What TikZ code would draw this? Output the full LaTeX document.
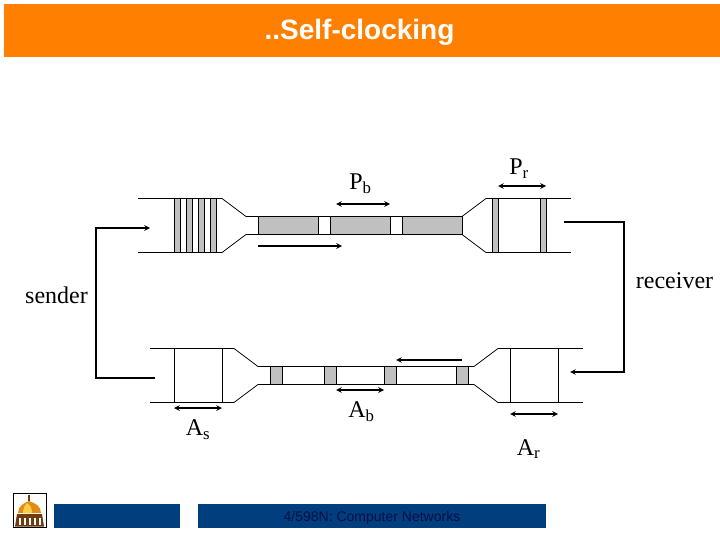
\documentclass[tikz,border=0pt]{standalone}
\usepackage{fontspec}
\setmainfont{Liberation Serif}
\newfontfamily\headfont{Liberation Sans}
\usetikzlibrary{
  arrows,
  positioning}
\definecolor{bannerorange}{RGB}{255,128,0}
\definecolor{footblue}{RGB}{0,62,126}
\definecolor{footink}{RGB}{5,15,70}
\definecolor{packetgray}{RGB}{192,192,192}
\definecolor{domegold}{RGB}{225,140,20}
\definecolor{domelight}{RGB}{250,205,70}
\definecolor{domedark}{RGB}{110,60,15}

\begin{document}
\begin{tikzpicture}[
  x=1pt,y=-1pt,
  >=stealth,
  pipe/.style={line width=0.75pt},
  packet/.style={draw,line width=0.75pt,fill=packetgray},
  flow/.style={line width=1.5pt,->},
  span/.style={line width=1.5pt,<->},
  lab/.style={font=\fontsize{24}{26}\selectfont,inner sep=0pt}
]%
  \useasboundingbox (0,0) rectangle (720,540);
  \fill[white] (0,0) rectangle (720,540);

  % title and footer
  \node (banner) [fill=bannerorange,minimum width=716,minimum height=53,inner sep=0pt] at (362,30.5) {};
  \node (title) [text=white] at (359.5,32) {\headfont\bfseries\fontsize{28}{30}\selectfont ..Self-clocking};
  \node (footA) [fill=footblue,minimum width=126,minimum height=24,inner sep=0pt] at (117,516) {};
  \node (footB) [fill=footblue,minimum width=348,minimum height=24,inner sep=0pt] at (372,516) {};
  \node (course) [text=footink] at (372,517.5) {\headfont\fontsize{14}{16}\selectfont 4/598N: Computer Networks};

  % dome
  \draw[line width=0.75pt,fill=white] (13,493) rectangle (46,527);
  \fill[domedark] (17,514) -- (42,514) -- (44,526.5) -- (15,526.5) -- cycle;
  \fill[domegold] (18,513) .. controls (18,506) and (24,503) .. (29,501) .. controls (35,503) and (41,506) .. (41,513) -- cycle;
  \fill[domelight] (27,503) .. controls (24,506) and (23,510) .. (23,513) -- (32,513) .. controls (32,509) and (31,506) .. (27,503);
  \fill[domedark] (27.5,495) rectangle (30,501);
  \foreach \x in {19,24,...,39}
    \fill[white] (\x,518) rectangle (\x+2,525);

  % top pipe
  \foreach \y in {198.5,252.5}
    \draw[pipe] (138,\y) -- (222,\y);
  \foreach \y in {198.5,252.5}
    \draw[pipe] (486,\y) -- (571,\y);
  \draw[pipe] (222,198.5) -- (246,216.5) -- (462,216.5) -- (486,198.5);
  \draw[pipe] (222,252.5) -- (246,234.5) -- (462,234.5) -- (486,252.5);
  \foreach \x in {174.5,186.5,198.5,210.5}
    \draw[packet] (\x,198.5) rectangle (\x+6,252.5);
  \foreach \x in {492.5,540.5}
    \draw[packet] (\x,198.5) rectangle (\x+6,252.5);
  \foreach \x in {258.5,330.5,402.5}
    \draw[packet] (\x,216.5) rectangle (\x+60,234.5);

  % bottom pipe
  \foreach \y in {348.5,402.5}
    \draw[pipe] (150,\y) -- (234,\y);
  \foreach \y in {348.5,402.5}
    \draw[pipe] (498,\y) -- (583,\y);
  \draw[pipe] (234,348.5) -- (258,366.5) -- (474,366.5) -- (498,348.5);
  \draw[pipe] (234,402.5) -- (258,384.5) -- (474,384.5) -- (498,402.5);
  \foreach \x in {174.5,222.5,510.5,558.5}
    \draw[pipe] (\x,348.5) -- (\x,402.5);
  \foreach \x in {270.5,324.5,384.5,456.5}
    \draw[packet] (\x,366.5) rectangle (\x+12,384.5);

  % labels
  \node (Pb) [lab] at (360.5,184) {P$_{\mathrm{b}}$};
  \node (Pr) [lab] at (519,169) {P$_{\mathrm{r}}$};
  \node (As) [lab] at (198,430) {A$_{\mathrm{s}}$};
  \node (Ab) [lab] at (361.5,412) {A$_{\mathrm{b}}$};
  \node (Ar) [lab] at (528.5,449) {A$_{\mathrm{r}}$};
  \node (sender) [lab] at (56.5,295) {sender};
  \node (receiver) [lab] at (674.5,281) {receiver};

  % arrows
  \coordinate (sA) at (155,378);
  \coordinate (sB) at (96,378);
  \coordinate (sC) at (96,228);
  \coordinate (sD) at (150,228);
  \draw[flow] (sA) -- (sB) -- (sC) -- (sD);
  \coordinate (rA) at (564,222);
  \coordinate (rB) at (624,222);
  \coordinate (rC) at (624,372);
  \coordinate (rD) at (570,372);
  \draw[flow] (rA) -- (rB) -- (rC) -- (rD);

  \coordinate (dataL) at (258,246);
  \coordinate (dataR) at (342,246);
  \draw[flow] (dataL) -- (dataR);
  \coordinate (backR) at (462,360);
  \coordinate (backL) at (396,360);
  \draw[flow] (backR) -- (backL);

  \coordinate (PbL) at (336,204);
  \coordinate (PbR) at (390,204);
  \draw[span] (PbL) -- (PbR);
  \coordinate (PrL) at (498,186);
  \coordinate (PrR) at (546,186);
  \draw[span] (PrL) -- (PrR);
  \coordinate (AsL) at (174,408);
  \coordinate (AsR) at (222,408);
  \draw[span] (AsL) -- (AsR);
  \coordinate (AbL) at (336,390);
  \coordinate (AbR) at (384,390);
  \draw[span] (AbL) -- (AbR);
  \coordinate (ArL) at (510,414);
  \coordinate (ArR) at (558,414);
  \draw[span] (ArL) -- (ArR);
\end{tikzpicture}
\end{document}
